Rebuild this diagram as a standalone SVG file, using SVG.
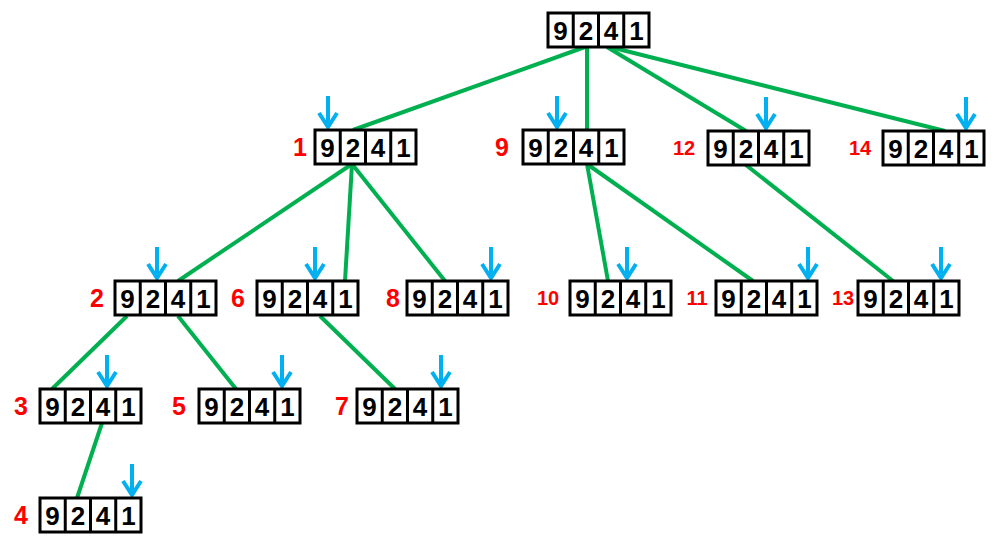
<svg xmlns="http://www.w3.org/2000/svg" width="994" height="546" viewBox="0 0 994 546">
<style>
.box{fill:#fff;stroke:#000;stroke-width:3}
.div{stroke:#000;stroke-width:3}
.d{font-family:"Liberation Sans",Arial,sans-serif;font-size:26px;font-weight:bold;fill:#000;text-anchor:middle}
.lab{font-family:"Liberation Sans",Arial,sans-serif;font-size:25px;font-weight:bold;fill:#FF0000;text-anchor:middle}
.lab2{font-family:"Liberation Sans",Arial,sans-serif;font-size:20px;font-weight:bold;fill:#FF0000;text-anchor:middle}
.edge{stroke:#00B050;stroke-width:4;fill:none}
.arr{stroke:#00B0F0;stroke-width:4;fill:none}
</style>
<defs>
<g id="cells">
<rect class="box" x="0" y="0" width="101" height="34"/>
<line class="div" x1="25.25" y1="0" x2="25.25" y2="34"/>
<line class="div" x1="50.5" y1="0" x2="50.5" y2="34"/>
<line class="div" x1="75.75" y1="0" x2="75.75" y2="34"/>
</g>
<g id="ptr">
<line x1="0" y1="-34" x2="0" y2="-3"/>
<polyline points="-9,-17 0,-3 9,-17"/>
</g>
</defs>

<g id="connectors">
<line class="edge" x1="585" y1="47" x2="353" y2="130"/>
<line class="edge" x1="587" y1="47" x2="587" y2="130"/>
<line class="edge" x1="607" y1="47" x2="746" y2="131"/>
<line class="edge" x1="610" y1="47" x2="945" y2="131"/>
<line class="edge" x1="352" y1="164" x2="178" y2="281"/>
<line class="edge" x1="352" y1="164" x2="345" y2="281"/>
<line class="edge" x1="352" y1="164" x2="445" y2="281"/>
<line class="edge" x1="587" y1="164" x2="608" y2="281"/>
<line class="edge" x1="587" y1="164" x2="753" y2="281"/>
<line class="edge" x1="746" y1="165" x2="893" y2="281"/>
<line class="edge" x1="127" y1="316" x2="52" y2="389"/>
<line class="edge" x1="178" y1="316" x2="236" y2="389"/>
<line class="edge" x1="320" y1="316" x2="395" y2="389"/>
<line class="edge" x1="102" y1="423" x2="77" y2="498"/>
</g>

<g id="root" transform="translate(548,13)">
<use href="#cells"/>
<text class="d" x="12.6" y="27">9</text><text class="d" x="37.9" y="27">2</text><text class="d" x="63.1" y="27">4</text><text class="d" x="88.4" y="27">1</text>
</g>

<g id="node1">
<text class="lab" x="300" y="156">1</text>
<use href="#ptr" class="arr" x="328" y="130"/>
<g transform="translate(315,130)"><use href="#cells"/>
<text class="d" x="12.6" y="27">9</text><text class="d" x="37.9" y="27">2</text><text class="d" x="63.1" y="27">4</text><text class="d" x="88.4" y="27">1</text></g>
</g>

<g id="node9">
<text class="lab" x="502" y="156">9</text>
<use href="#ptr" class="arr" x="557" y="130"/>
<g transform="translate(523,130)"><use href="#cells"/>
<text class="d" x="12.6" y="27">9</text><text class="d" x="37.9" y="27">2</text><text class="d" x="63.1" y="27">4</text><text class="d" x="88.4" y="27">1</text></g>
</g>

<g id="node12">
<text class="lab2" x="684" y="155">12</text>
<use href="#ptr" class="arr" x="766" y="131"/>
<g transform="translate(708,131)"><use href="#cells"/>
<text class="d" x="12.6" y="27">9</text><text class="d" x="37.9" y="27">2</text><text class="d" x="63.1" y="27">4</text><text class="d" x="88.4" y="27">1</text></g>
</g>

<g id="node14">
<text class="lab2" x="860" y="155">14</text>
<use href="#ptr" class="arr" x="966" y="131"/>
<g transform="translate(883,131)"><use href="#cells"/>
<text class="d" x="12.6" y="27">9</text><text class="d" x="37.9" y="27">2</text><text class="d" x="63.1" y="27">4</text><text class="d" x="88.4" y="27">1</text></g>
</g>

<g id="node2">
<text class="lab" x="97" y="307">2</text>
<use href="#ptr" class="arr" x="157" y="281"/>
<g transform="translate(115,281)"><use href="#cells"/>
<text class="d" x="12.6" y="27">9</text><text class="d" x="37.9" y="27">2</text><text class="d" x="63.1" y="27">4</text><text class="d" x="88.4" y="27">1</text></g>
</g>

<g id="node6">
<text class="lab" x="238" y="307">6</text>
<use href="#ptr" class="arr" x="315" y="281"/>
<g transform="translate(257,281)"><use href="#cells"/>
<text class="d" x="12.6" y="27">9</text><text class="d" x="37.9" y="27">2</text><text class="d" x="63.1" y="27">4</text><text class="d" x="88.4" y="27">1</text></g>
</g>

<g id="node8">
<text class="lab" x="393" y="307">8</text>
<use href="#ptr" class="arr" x="491" y="281"/>
<g transform="translate(407,281)"><use href="#cells"/>
<text class="d" x="12.6" y="27">9</text><text class="d" x="37.9" y="27">2</text><text class="d" x="63.1" y="27">4</text><text class="d" x="88.4" y="27">1</text></g>
</g>

<g id="node10">
<text class="lab2" x="548" y="305">10</text>
<use href="#ptr" class="arr" x="627" y="281"/>
<g transform="translate(570,281)"><use href="#cells"/>
<text class="d" x="12.6" y="27">9</text><text class="d" x="37.9" y="27">2</text><text class="d" x="63.1" y="27">4</text><text class="d" x="88.4" y="27">1</text></g>
</g>

<g id="node11">
<text class="lab2" x="697" y="305">11</text>
<use href="#ptr" class="arr" x="808" y="281"/>
<g transform="translate(716,281)"><use href="#cells"/>
<text class="d" x="12.6" y="27">9</text><text class="d" x="37.9" y="27">2</text><text class="d" x="63.1" y="27">4</text><text class="d" x="88.4" y="27">1</text></g>
</g>

<g id="node13">
<text class="lab2" x="843" y="305">13</text>
<use href="#ptr" class="arr" x="941" y="281"/>
<g transform="translate(858,281)"><use href="#cells"/>
<text class="d" x="12.6" y="27">9</text><text class="d" x="37.9" y="27">2</text><text class="d" x="63.1" y="27">4</text><text class="d" x="88.4" y="27">1</text></g>
</g>

<g id="node3">
<text class="lab" x="21" y="415">3</text>
<use href="#ptr" class="arr" x="107" y="389"/>
<g transform="translate(40,389)"><use href="#cells"/>
<text class="d" x="12.6" y="27">9</text><text class="d" x="37.9" y="27">2</text><text class="d" x="63.1" y="27">4</text><text class="d" x="88.4" y="27">1</text></g>
</g>

<g id="node5">
<text class="lab" x="179" y="415">5</text>
<use href="#ptr" class="arr" x="282" y="389"/>
<g transform="translate(199,389)"><use href="#cells"/>
<text class="d" x="12.6" y="27">9</text><text class="d" x="37.9" y="27">2</text><text class="d" x="63.1" y="27">4</text><text class="d" x="88.4" y="27">1</text></g>
</g>

<g id="node7">
<text class="lab" x="342" y="415">7</text>
<use href="#ptr" class="arr" x="441" y="389"/>
<g transform="translate(357,389)"><use href="#cells"/>
<text class="d" x="12.6" y="27">9</text><text class="d" x="37.9" y="27">2</text><text class="d" x="63.1" y="27">4</text><text class="d" x="88.4" y="27">1</text></g>
</g>

<g id="node4">
<text class="lab" x="21" y="524">4</text>
<use href="#ptr" class="arr" x="132" y="498"/>
<g transform="translate(40,498)"><use href="#cells"/>
<text class="d" x="12.6" y="27">9</text><text class="d" x="37.9" y="27">2</text><text class="d" x="63.1" y="27">4</text><text class="d" x="88.4" y="27">1</text></g>
</g>
</svg>
